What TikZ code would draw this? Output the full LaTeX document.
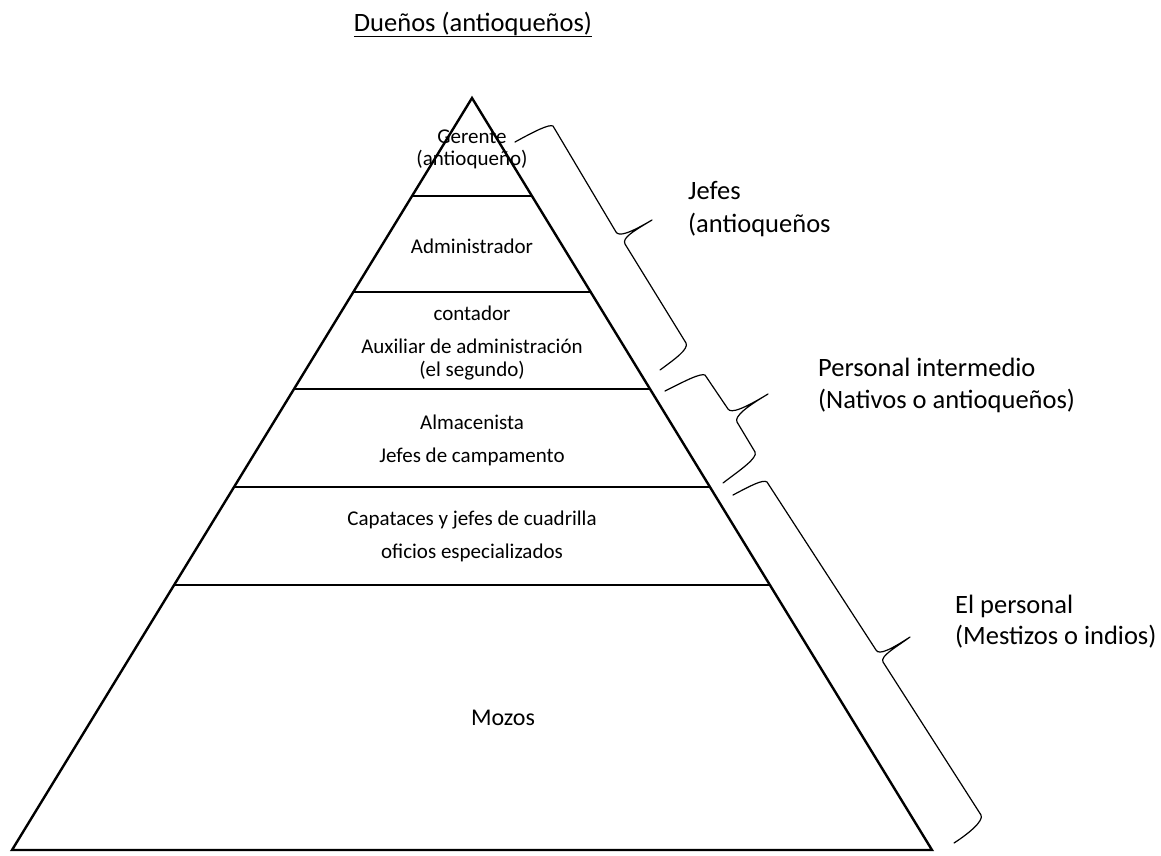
\documentclass[tikz,border=0pt]{standalone}
\usepackage{fontspec}
\setmainfont{Carlito}
\usetikzlibrary{calc}
\begin{document}
\begin{tikzpicture}[x=1pt,y=-1pt,
  outline/.style={line width=2.4pt,line join=miter},
  levelline/.style={line width=2.4pt},
  bracket/.style={line width=1.2pt,line join=round,line cap=round},
  inlabel/.style={font=\fontsize{21}{25}\selectfont,anchor=base,inner sep=0pt},
  sidelabel/.style={font=\fontsize{26.5}{32}\selectfont,anchor=base west,inner sep=0pt}]
\useasboundingbox (0,0) rectangle (1161,855);
% pyramid
\coordinate (apex) at (472,98);
\coordinate (bl) at (12,850);
\coordinate (br) at (932,850);
\draw[outline] (apex) -- (bl) -- (br) -- cycle;
\foreach \t/\n in {0.1303/a,0.2580/b,0.3870/c,0.5173/d,0.6476/e}{
  \coordinate (L\n) at ($(apex)!\t!(bl)$);
  \coordinate (R\n) at ($(apex)!\t!(br)$);
  \draw[levelline] (L\n) -- (R\n);
}
% title
\node[anchor=base,inner sep=0pt,font=\fontsize{26.5}{32}\selectfont] (duenos) at (473,31) {\underline{Dueños (antioqueños)}};
% pyramid labels
\node[inlabel] (g1) at (472,143) {Gerente};
\node[inlabel] (g2) at (472,165) {(antioqueño)};
\node[inlabel] (adm) at (472,253) {Administrador};
\node[inlabel] (cont) at (472,320) {contador};
\node[inlabel] (aux) at (472,353) {Auxiliar de administración};
\node[inlabel] (seg) at (472,376) {(el segundo)};
\node[inlabel] (alm) at (472,429) {Almacenista};
\node[inlabel] (camp) at (472,462) {Jefes de campamento};
\node[inlabel] (cap) at (472,525) {Capataces y jefes de cuadrilla};
\node[inlabel] (ofi) at (472,558) {oficios especializados};
\node[anchor=base,inner sep=0pt,font=\fontsize{24}{29}\selectfont] (mozos) at (503,725) {Mozos};
% side labels
\node[sidelabel] (jefes1) at (688,199) {Jefes};
\node[sidelabel] (jefes2) at (688,232) {(antioqueños};
\node[sidelabel] (pi1) at (818,376) {Personal intermedio};
\node[sidelabel] (pi2) at (818,408) {(Nativos o antioqueños)};
\node[sidelabel] (ep1) at (955,613) {El personal};
\node[sidelabel] (ep2) at (955,644) {(Mestizos o indios)};
% braces
\draw[bracket] (515,142) .. controls (535,131) and (549,124) .. (553,126) -- (616,232)
  .. controls (619,237) and (630,233) .. (652,220)
  .. controls (632,232) and (622,238) .. (625,244) -- (686,343)
  .. controls (689,349) and (675,359) .. (660,370);
\draw[bracket] (665,391) .. controls (685,381) and (700,373) .. (705,375) -- (728,409)
  .. controls (731,414) and (745,408) .. (768,394)
  .. controls (748,406) and (734,416) .. (737,422) -- (755,452)
  .. controls (758,458) and (740,470) .. (723,483);
\draw[bracket] (733,495) .. controls (750,486) and (763,479) .. (767,482) -- (876,650)
  .. controls (879,656) and (893,648) .. (910,637)
  .. controls (895,648) and (880,656) .. (883,662) -- (981,815)
  .. controls (984,821) and (968,834) .. (954,843);
\end{tikzpicture}
\end{document}
